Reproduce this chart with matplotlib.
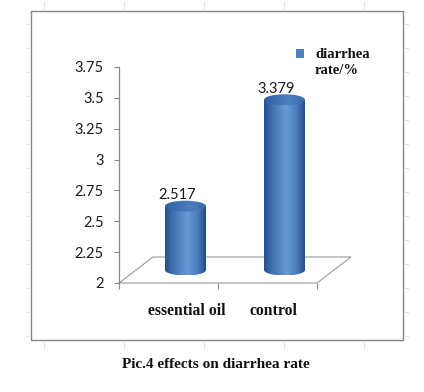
import numpy as np
import matplotlib
matplotlib.use("Agg")
import matplotlib.pyplot as plt
from matplotlib.path import Path
from matplotlib.patches import PathPatch, Ellipse, Rectangle
from matplotlib.lines import Line2D
from matplotlib.colors import LinearSegmentedColormap

# ---- data ----
categories = ["essential oil", "control"]
values = [2.517, 3.379]
value_labels = ["2.517", "3.379"]
series_name = "diarrhea\nrate/%"
yticks = [2, 2.25, 2.5, 2.75, 3, 3.25, 3.5, 3.75]
ytick_labels = ["2", "2.25", "2.5", "2.75", "3", "3.25", "3.5", "3.75"]
title = "Pic.4 effects on diarrhea rate"

W, H = 424, 392
fig = plt.figure(figsize=(W / 100, H / 100), dpi=100)
fig.patch.set_facecolor("white")


def fx(x):
    return x / W


def fy(y):
    return 1 - y / H


# faint ruler marks of the page
ruler = "#e4e4e4"
for x in [44, 124, 204, 284, 364]:
    fig.add_artist(Line2D([fx(x), fx(x)], [fy(2), fy(10)], color=ruler, lw=0.8))
    fig.add_artist(Line2D([fx(x), fx(x)], [fy(341), fy(348)], color=ruler, lw=0.8))
for y in range(24, 340, 24):
    fig.add_artist(Line2D([fx(404), fx(408)], [fy(y), fy(y)], color=ruler, lw=0.8))
    fig.add_artist(Line2D([fx(26), fx(30)], [fy(y), fy(y)], color=ruler, lw=0.8))

# chart frame
fig.add_artist(Rectangle((fx(31), fy(340)), fx(403) - fx(31), fy(11) - fy(340),
                         fill=False, edgecolor="#858585", lw=1.0,
                         transform=fig.transFigure))

# plot axes: x 0..2 spans px 119..317, y 2..3.75 spans px 283..67
ax = fig.add_axes([fx(119), fy(283), fx(317) - fx(119), fy(67) - fy(283)])
ax.set_facecolor("none")
ymin, ymax = 2, 3.75
ax.set_xlim(0, 2)
ax.set_ylim(ymin, ymax)

for s in ["top", "right", "bottom"]:
    ax.spines[s].set_visible(False)
ax.spines["left"].set_color("#8a8a8a")
ax.spines["left"].set_linewidth(0.9)
ax.set_yticks(yticks)
ax.set_yticklabels(ytick_labels, fontfamily="Lato", fontsize=10.5, color="#1a1a1a")
ax.tick_params(axis="y", direction="out", length=3.6, width=0.8, color="#8a8a8a", pad=7.5)
ax.set_xticks([0, 1, 2])
ax.set_xticklabels([])
ax.tick_params(axis="x", direction="out", length=4.3, width=0.8, color="#8a8a8a")

# 3D floor
dx = 34 / 99
dy = 26 / 123.4
floor_x = [0, 2, 2 + dx, dx, 0]
floor_y = [ymin, ymin, ymin + dy, ymin + dy, ymin]
ax.plot(floor_x, floor_y, color="#9a9a9a", lw=0.8, clip_on=False, zorder=1)

# cylinders
cmap = LinearSegmentedColormap.from_list(
    "cyl", [(0.0, "#24508c"), (0.15, "#3a6aaa"), (0.55, "#6a9ad6"),
            (0.8, "#4a7dbd"), (1.0, "#234c86")])
top_cmap = LinearSegmentedColormap.from_list(
    "cyltop", [(0.0, "#2f5f9e"), (0.6, "#4d7ebf"), (1.0, "#3a6aa8")])
hw = 20.5 / 99
b = 5.5 / 123.4
grad = np.linspace(0, 1, 256).reshape(1, -1)
for i, v in enumerate(values):
    cx = i + 0.5 + dx / 2
    y0 = ymin + dy / 2
    y1 = v + dy / 2
    th = np.linspace(np.pi, 2 * np.pi, 60)
    verts = [(cx - hw, y1), (cx - hw, y0)]
    verts += list(zip(cx + hw * np.cos(th), y0 + b * np.sin(th)))
    verts += [(cx + hw, y0), (cx + hw, y1), (cx - hw, y1)]
    codes = [Path.MOVETO] + [Path.LINETO] * (len(verts) - 2) + [Path.CLOSEPOLY]
    patch = PathPatch(Path(verts, codes), facecolor="none", edgecolor="none")
    ax.add_patch(patch)
    im = ax.imshow(grad, cmap=cmap, aspect="auto",
                   extent=[cx - hw, cx + hw, y0 - b, y1], zorder=2)
    im.set_clip_path(patch)
    top = Ellipse((cx, y1), 2 * hw, 2 * b, facecolor="none", edgecolor="none")
    ax.add_patch(top)
    im2 = ax.imshow(grad, cmap=top_cmap, aspect="auto",
                    extent=[cx - hw, cx + hw, y1 - b, y1 + b], zorder=3)
    im2.set_clip_path(top)
    ax.annotate(value_labels[i], (cx, y1), xytext=(-5.8, 8.0),
                textcoords="offset points", ha="center", va="center",
                fontfamily="Lato", fontsize=10.5, color="#1a1a1a", zorder=4)

ax.set_xlim(0, 2)
ax.set_ylim(ymin, ymax)

# category labels
cat_x = [187, 273.5]
for c, x in zip(categories, cat_x):
    fig.text(fx(x), fy(311), c, ha="center", va="center",
             fontfamily="Liberation Serif", fontweight="bold", fontsize=11.3,
             color="#111111")

# legend
fig.add_artist(Rectangle((fx(295.5), fy(57.5)), fx(8.5), fy(0) - fy(8.5),
                         facecolor="#4f81bd", edgecolor="none",
                         transform=fig.transFigure))
fig.text(fx(315), fy(62.5), series_name, ha="left", va="center",
         fontfamily="Liberation Serif", fontweight="bold", fontsize=10.5,
         color="#111111", linespacing=1.3)

# title
fig.text(fx(215.5), fy(365), title, ha="center", va="center",
         fontfamily="Liberation Serif", fontweight="bold", fontsize=11,
         color="#111111")

fig.savefig("out.png", dpi=100)
